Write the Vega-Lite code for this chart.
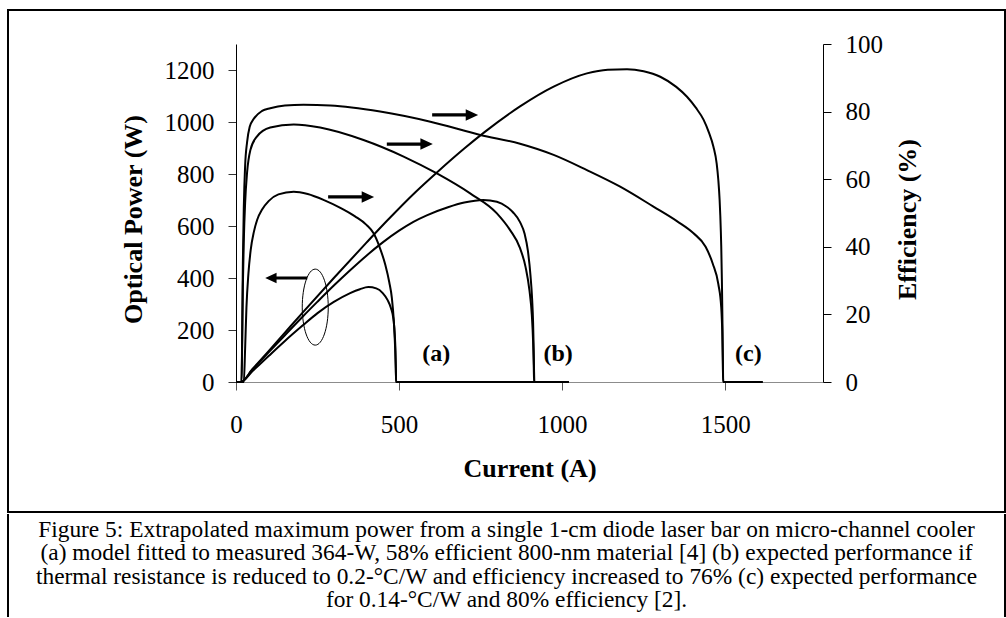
{
  "$schema": "https://vega.github.io/schema/vega-lite/v6.json",
  "background": "white",
  "padding": {"left": 7, "top": 9, "right": 0, "bottom": 0},
  "spacing": 0,
  "config": {
    "font": "Liberation Serif",
    "view": {"stroke": "black", "strokeWidth": 2},
    "axis": {
      "grid": false,
      "format": "d",
      "labelFont": "Liberation Serif",
      "titleFont": "Liberation Serif",
      "labelColor": "black",
      "titleColor": "black",
      "labelFontSize": 25,
      "titleFontSize": 26,
      "titleFontWeight": "bold"
    }
  },
  "datasets": {
    "power": [
      {"model": "a", "current": 0, "power": 0}, {"model": "a", "current": 15, "power": 0}, {"model": "a", "current": 50, "power": 41},
      {"model": "a", "current": 100, "power": 100}, {"model": "a", "current": 150, "power": 158}, {"model": "a", "current": 205, "power": 218},
      {"model": "a", "current": 250, "power": 265}, {"model": "a", "current": 300, "power": 308}, {"model": "a", "current": 350, "power": 342},
      {"model": "a", "current": 380, "power": 357}, {"model": "a", "current": 406, "power": 365}, {"model": "a", "current": 430, "power": 360},
      {"model": "a", "current": 450, "power": 342}, {"model": "a", "current": 465, "power": 315}, {"model": "a", "current": 475, "power": 285},
      {"model": "a", "current": 483, "power": 240}, {"model": "a", "current": 487, "power": 180}, {"model": "a", "current": 489, "power": 120},
      {"model": "a", "current": 490, "power": 60}, {"model": "a", "current": 491, "power": 0}, {"model": "a", "current": 1020, "power": 0},
      {"model": "b", "current": 0, "power": 0}, {"model": "b", "current": 15, "power": 0}, {"model": "b", "current": 50, "power": 47},
      {"model": "b", "current": 100, "power": 114}, {"model": "b", "current": 150, "power": 180}, {"model": "b", "current": 205, "power": 252},
      {"model": "b", "current": 250, "power": 309}, {"model": "b", "current": 300, "power": 371}, {"model": "b", "current": 350, "power": 430},
      {"model": "b", "current": 400, "power": 486}, {"model": "b", "current": 450, "power": 537}, {"model": "b", "current": 500, "power": 582},
      {"model": "b", "current": 544, "power": 616}, {"model": "b", "current": 585, "power": 641}, {"model": "b", "current": 650, "power": 672},
      {"model": "b", "current": 700, "power": 690}, {"model": "b", "current": 758, "power": 700}, {"model": "b", "current": 800, "power": 693},
      {"model": "b", "current": 830, "power": 674}, {"model": "b", "current": 850, "power": 652}, {"model": "b", "current": 871, "power": 615},
      {"model": "b", "current": 885, "power": 570}, {"model": "b", "current": 895, "power": 505}, {"model": "b", "current": 903, "power": 410},
      {"model": "b", "current": 908, "power": 320}, {"model": "b", "current": 911, "power": 230}, {"model": "b", "current": 913, "power": 120},
      {"model": "b", "current": 914, "power": 40}, {"model": "b", "current": 915, "power": 0}, {"model": "b", "current": 1020, "power": 0},
      {"model": "c", "current": 0, "power": 0}, {"model": "c", "current": 15, "power": 0}, {"model": "c", "current": 50, "power": 49},
      {"model": "c", "current": 100, "power": 119}, {"model": "c", "current": 150, "power": 190}, {"model": "c", "current": 205, "power": 268},
      {"model": "c", "current": 300, "power": 400}, {"model": "c", "current": 400, "power": 536}, {"model": "c", "current": 463, "power": 620},
      {"model": "c", "current": 550, "power": 730}, {"model": "c", "current": 616, "power": 806}, {"model": "c", "current": 700, "power": 898},
      {"model": "c", "current": 764, "power": 963}, {"model": "c", "current": 871, "power": 1060}, {"model": "c", "current": 974, "power": 1136},
      {"model": "c", "current": 1076, "power": 1187}, {"model": "c", "current": 1140, "power": 1201}, {"model": "c", "current": 1199, "power": 1203},
      {"model": "c", "current": 1250, "power": 1195}, {"model": "c", "current": 1301, "power": 1174}, {"model": "c", "current": 1350, "power": 1135},
      {"model": "c", "current": 1383, "power": 1097}, {"model": "c", "current": 1410, "power": 1055}, {"model": "c", "current": 1434, "power": 1008},
      {"model": "c", "current": 1450, "power": 960}, {"model": "c", "current": 1464, "power": 905}, {"model": "c", "current": 1474, "power": 840},
      {"model": "c", "current": 1479, "power": 777}, {"model": "c", "current": 1483, "power": 700}, {"model": "c", "current": 1485, "power": 642},
      {"model": "c", "current": 1488, "power": 520}, {"model": "c", "current": 1490, "power": 386}, {"model": "c", "current": 1492, "power": 200},
      {"model": "c", "current": 1493, "power": 50}, {"model": "c", "current": 1494, "power": 0}, {"model": "c", "current": 1615, "power": 0}
    ],
    "efficiency": [
      {"model": "a", "current": 0, "efficiency": 0}, {"model": "a", "current": 24, "efficiency": 0}, {"model": "a", "current": 28, "efficiency": 10},
      {"model": "a", "current": 32, "efficiency": 22}, {"model": "a", "current": 38, "efficiency": 32}, {"model": "a", "current": 45, "efficiency": 39},
      {"model": "a", "current": 55, "efficiency": 44.5}, {"model": "a", "current": 65, "efficiency": 48}, {"model": "a", "current": 80, "efficiency": 51},
      {"model": "a", "current": 100, "efficiency": 53.5}, {"model": "a", "current": 130, "efficiency": 55.5}, {"model": "a", "current": 177, "efficiency": 56.3},
      {"model": "a", "current": 220, "efficiency": 55.6}, {"model": "a", "current": 270, "efficiency": 53.8}, {"model": "a", "current": 320, "efficiency": 51.5},
      {"model": "a", "current": 365, "efficiency": 49}, {"model": "a", "current": 400, "efficiency": 46.5}, {"model": "a", "current": 422, "efficiency": 44},
      {"model": "a", "current": 440, "efficiency": 40}, {"model": "a", "current": 458, "efficiency": 34.6}, {"model": "a", "current": 470, "efficiency": 29.5},
      {"model": "a", "current": 478, "efficiency": 24.8}, {"model": "a", "current": 484, "efficiency": 18}, {"model": "a", "current": 488, "efficiency": 10},
      {"model": "a", "current": 490, "efficiency": 4}, {"model": "a", "current": 491, "efficiency": 0}, {"model": "a", "current": 1020, "efficiency": 0},
      {"model": "b", "current": 0, "efficiency": 0}, {"model": "b", "current": 17, "efficiency": 0}, {"model": "b", "current": 19, "efficiency": 12},
      {"model": "b", "current": 21, "efficiency": 28}, {"model": "b", "current": 24, "efficiency": 42}, {"model": "b", "current": 28, "efficiency": 53},
      {"model": "b", "current": 34, "efficiency": 62}, {"model": "b", "current": 44, "efficiency": 68.6}, {"model": "b", "current": 64, "efficiency": 72.6},
      {"model": "b", "current": 105, "efficiency": 75.3}, {"model": "b", "current": 177, "efficiency": 76.2}, {"model": "b", "current": 258, "efficiency": 75.3},
      {"model": "b", "current": 391, "efficiency": 71.6}, {"model": "b", "current": 514, "efficiency": 66.7}, {"model": "b", "current": 616, "efficiency": 61.7},
      {"model": "b", "current": 718, "efficiency": 55.8}, {"model": "b", "current": 800, "efficiency": 49.9}, {"model": "b", "current": 840, "efficiency": 45},
      {"model": "b", "current": 871, "efficiency": 39.6}, {"model": "b", "current": 888, "efficiency": 34}, {"model": "b", "current": 900, "efficiency": 27},
      {"model": "b", "current": 907, "efficiency": 20}, {"model": "b", "current": 911, "efficiency": 12}, {"model": "b", "current": 913, "efficiency": 5},
      {"model": "b", "current": 914, "efficiency": 0}, {"model": "b", "current": 1020, "efficiency": 0},
      {"model": "c", "current": 0, "efficiency": 0}, {"model": "c", "current": 17, "efficiency": 0}, {"model": "c", "current": 19, "efficiency": 15},
      {"model": "c", "current": 21, "efficiency": 35}, {"model": "c", "current": 24, "efficiency": 52}, {"model": "c", "current": 28, "efficiency": 64},
      {"model": "c", "current": 34, "efficiency": 71}, {"model": "c", "current": 42, "efficiency": 75.5}, {"model": "c", "current": 54, "efficiency": 77.8},
      {"model": "c", "current": 80, "efficiency": 80.2}, {"model": "c", "current": 105, "efficiency": 81}, {"model": "c", "current": 150, "efficiency": 81.8},
      {"model": "c", "current": 207, "efficiency": 82}, {"model": "c", "current": 289, "efficiency": 81.8}, {"model": "c", "current": 442, "efficiency": 80},
      {"model": "c", "current": 596, "efficiency": 77}, {"model": "c", "current": 749, "efficiency": 73.1}, {"model": "c", "current": 871, "efficiency": 70.5},
      {"model": "c", "current": 974, "efficiency": 67.2}, {"model": "c", "current": 1076, "efficiency": 62.7}, {"model": "c", "current": 1178, "efficiency": 57.8},
      {"model": "c", "current": 1280, "efficiency": 51.9}, {"model": "c", "current": 1352, "efficiency": 47.6}, {"model": "c", "current": 1403, "efficiency": 44},
      {"model": "c", "current": 1440, "efficiency": 40}, {"model": "c", "current": 1462, "efficiency": 35}, {"model": "c", "current": 1479, "efficiency": 29},
      {"model": "c", "current": 1488, "efficiency": 22}, {"model": "c", "current": 1491, "efficiency": 15}, {"model": "c", "current": 1493, "efficiency": 6},
      {"model": "c", "current": 1494, "efficiency": 0}, {"model": "c", "current": 1615, "efficiency": 0}
    ]
  },
  "vconcat": [
    {
      "width": 997,
      "height": 502,
      "resolve": {"scale": {"y": "independent"}, "axis": {"y": "independent"}},
      "encoding": {
        "x": {
          "field": "current",
          "type": "quantitative",
          "scale": {"domain": [0, 1800], "range": [228, 815], "nice": false, "zero": false},
          "axis": {
            "title": "Current (A)",
            "values": [0, 500, 1000, 1500],
            "offset": -130,
            "domainColor": "#8c8c8c",
            "tickColor": "#555555",
            "tickSize": 8,
            "labelFlush": false,
            "labelOverlap": false,
            "labelPadding": 22,
            "titlePadding": 18
          }
        }
      },
      "layer": [
        {
          "encoding": {
            "y": {
              "field": "power",
              "type": "quantitative",
              "title": "Optical Power (W)",
              "scale": {"domain": [0, 1300], "range": [372, 34], "nice": false},
              "axis": {
                "orient": "left",
                "values": [0, 200, 400, 600, 800, 1000, 1200],
                "offset": -228,
                "domainColor": "black",
                "tickColor": "#333333",
                "tickSize": 8,
                "labelPadding": 14,
                "titlePadding": 18,
                "titleY": 209
              }
            }
          },
          "layer": [
            {
              "data": {"name": "power"},
              "mark": {"type": "line", "color": "black", "strokeWidth": 2, "interpolate": "monotone", "strokeJoin": "round"},
              "encoding": {"detail": {"field": "model"}}
            },
            {
              "data": {"values": [{}]},
              "mark": {"type": "rule", "color": "#a6a6a6", "strokeWidth": 1},
              "encoding": {
                "x": {"datum": 0, "type": "quantitative"},
                "x2": {"datum": 1800},
                "y": {"datum": 1300, "type": "quantitative"}
              }
            },
            {
              "data": {"values": [
                {"current": 672, "power": 1027},
                {"current": 533, "power": 915},
                {"current": 353, "power": 712}
              ]},
              "mark": {
                "type": "point",
                "shape": "M-1,-0.07L0.46,-0.07L0.46,-0.25L1,0L0.46,0.25L0.46,0.07L-1,0.07Z",
                "size": 2116,
                "filled": true,
                "color": "black",
                "opacity": 1,
                "strokeWidth": 0
              }
            },
            {
              "data": {"values": [{"current": 154, "power": 400}]},
              "mark": {
                "type": "point",
                "shape": "M-1,-0.07L0.46,-0.07L0.46,-0.25L1,0L0.46,0.25L0.46,0.07L-1,0.07Z",
                "size": 1764,
                "angle": 180,
                "filled": true,
                "color": "black",
                "opacity": 1,
                "strokeWidth": 0
              }
            },
            {
              "data": {"values": [{"current": 243, "power": 288}]},
              "mark": {
                "type": "point",
                "shape": "M0,-1C0.189,-1,0.342,-0.552,0.342,0C0.342,0.552,0.189,1,0,1C-0.189,1,-0.342,0.552,-0.342,0C-0.342,-0.552,-0.189,-1,0,-1Z",
                "size": 5776,
                "filled": false,
                "color": "black",
                "opacity": 1,
                "strokeWidth": 1
              }
            },
            {
              "data": {"values": [
                {"label": "(a)", "current": 614, "power": 108},
                {"label": "(b)", "current": 988, "power": 108},
                {"label": "(c)", "current": 1571, "power": 108}
              ]},
              "mark": {"type": "text", "font": "Liberation Serif", "fontSize": 24, "fontWeight": "bold", "align": "center", "baseline": "middle", "color": "black"},
              "encoding": {"text": {"field": "label"}}
            }
          ]
        },
        {
          "encoding": {
            "y": {
              "field": "efficiency",
              "type": "quantitative",
              "title": "Efficiency (%)",
              "scale": {"domain": [0, 100], "range": [372, 34], "nice": false},
              "axis": {
                "orient": "right",
                "values": [0, 20, 40, 60, 80, 100],
                "offset": -182,
                "domainColor": "black",
                "tickColor": "black",
                "tickSize": 8,
                "labelPadding": 14,
                "titleAngle": 270,
                "titleBaseline": "top",
                "titlePadding": 12,
                "titleY": 209
              }
            }
          },
          "layer": [
            {
              "data": {"name": "efficiency"},
              "mark": {"type": "line", "color": "black", "strokeWidth": 2, "interpolate": "monotone", "strokeJoin": "round"},
              "encoding": {"detail": {"field": "model"}}
            },
            {
              "data": {"values": [{"efficiency": 0}, {"efficiency": 20}, {"efficiency": 40}, {"efficiency": 60}, {"efficiency": 80}, {"efficiency": 100}]},
              "mark": {"type": "tick", "orient": "horizontal", "size": 16, "thickness": 1, "color": "black", "opacity": 1},
              "encoding": {"x": {"datum": 1800, "type": "quantitative"}}
            }
          ]
        }
      ]
    },
    {
      "width": 997,
      "height": 103,
      "view": {"stroke": "black", "strokeWidth": 2, "strokeDash": [103, 997], "strokeDashOffset": 103},
      "data": {"values": [
        {"caption": "Figure 5: Extrapolated maximum power from a single 1-cm diode laser bar on micro-channel cooler\n(a) model fitted to measured 364-W, 58% efficient 800-nm material [4] (b) expected performance if\nthermal resistance is reduced to 0.2-°C/W and efficiency increased to 76% (c) expected performance\nfor 0.14-°C/W and 80% efficiency [2]."}
      ]},
      "mark": {"type": "text", "font": "Liberation Serif", "fontSize": 23.4, "lineBreak": "\n", "lineHeight": 23.5, "align": "center", "baseline": "middle", "dy": -36, "color": "black"},
      "encoding": {"text": {"field": "caption"}}
    }
  ]
}
